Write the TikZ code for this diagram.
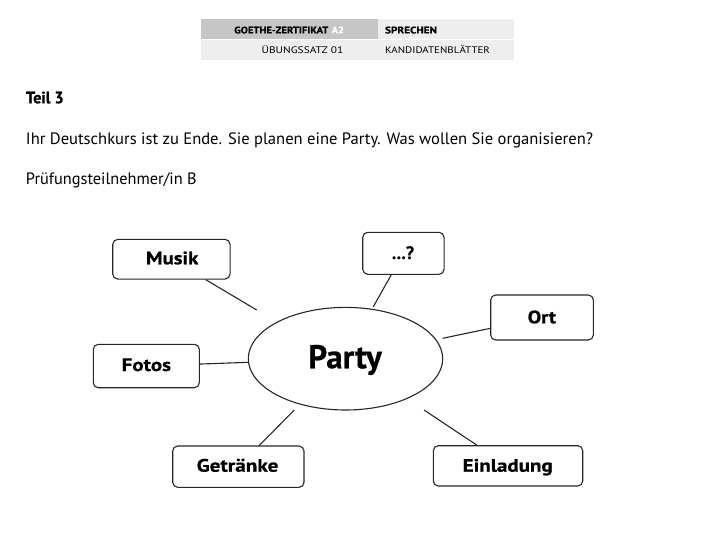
\documentclass[tikz,border=0pt]{standalone}
\usepackage{fontspec}
\usepackage{graphicx}
\setmainfont{PT Sans}
\newfontfamily\heavyfont[FakeBold=0.6]{PT Sans Bold}
\definecolor{hdrdark}{HTML}{C6C6C6}
\definecolor{hdrlight}{HTML}{EEEEEE}
\newcommand{\fitw}[2]{\resizebox{#1}{\height}{#2}}
\begin{document}
\begin{tikzpicture}[x=1pt,y=-1pt,
  txt/.style={anchor=base west,inner sep=0pt,outer sep=0pt},
  txtr/.style={anchor=base east,inner sep=0pt,outer sep=0pt},
  hdr/.style={font=\fontsize{9.5}{11}\selectfont},
  body/.style={font=\fontsize{16.5}{19}\selectfont},
  lbl/.style={font=\heavyfont\fontsize{18}{21}\selectfont},
  box/.style={draw=black!85,line width=1.1pt,rounded corners=5pt,inner sep=0pt},
  conn/.style={draw=black!85,line width=1.1pt}]
\useasboundingbox (0,0) rectangle (728,535);
% header table
\fill[hdrdark] (201,19) rectangle (377.7,39);
\fill[hdrlight] (377.7,19) rectangle (513.5,39);
\fill[hdrlight] (201,40.2) rectangle (513.5,60);
\node[txtr,hdr] (h1) at (328.3,33.4) {\fitw{94pt}{\heavyfont GOETHE-ZERTIFIKAT}};
\node[txt,hdr,text=white] (h2) at (331.7,33.4) {\fitw{12.3pt}{\heavyfont A2}};
\node[txt,hdr] (h3) at (385,33.4) {\fitw{52pt}{\heavyfont SPRECHEN}};
\node[txtr,hdr] (h4) at (343.3,53.4) {\fitw{81.6pt}{ÜBUNGSSATZ 01}};
\node[txt,hdr] (h5) at (385,53.4) {\fitw{105pt}{KANDIDATENBLÄTTER}};
% body text
\node[txt,body] (t1) at (26,103.3) {\fitw{37.7pt}{\heavyfont Teil 3}};
\node[txt,body] (t2) at (26,144.3) {\fitw{567pt}{Ihr Deutschkurs ist zu Ende. Sie planen eine Party. Was wollen Sie organisieren?}};
\node[txt,body] (t3) at (26,184.3) {\fitw{170.7pt}{Prüfungsteilnehmer/in B}};
% central ellipse
\draw[conn] (345.5,358.7) ellipse [x radius=97.2, y radius=51.3];
\node[inner sep=0pt,font=\heavyfont\fontsize{33}{38}\selectfont,anchor=base] (party) at (345,368.3) {\fitw{73.4pt}{Party}};
% boxes
\node[box,minimum width=117.3pt,minimum height=39.7pt] (musik) at (171.4,259.2) {};
\node[txt,lbl] (musikT) at (146,264.3) {\fitw{52.3pt}{Musik}};
\node[box,minimum width=81.3pt,minimum height=42pt] (frage) at (403.4,253.3) {};
\node[txt,lbl] (frageT) at (391.7,259) {\fitw{22.3pt}{…?}};
\node[box,minimum width=102.6pt,minimum height=45pt] (ort) at (542,317.5) {};
\node[txt,lbl] (ortT) at (527.7,323.3) {\fitw{28.3pt}{Ort}};
\node[box,minimum width=106pt,minimum height=43.4pt] (fotos) at (146.3,366) {};
\node[txt,lbl] (fotosT) at (121.7,371) {\fitw{49.3pt}{Fotos}};
\node[box,minimum width=131.3pt,minimum height=41.3pt] (getraenke) at (238.35,466.65) {};
\node[txt,lbl] (getraenkeT) at (196.7,471.7) {\fitw{81.6pt}{Getränke}};
\node[box,minimum width=149.4pt,minimum height=40.3pt] (einladung) at (508,465.85) {};
\node[txt,lbl] (einladungT) at (462.7,471.7) {\fitw{90pt}{Einladung}};
% free ends near the ellipse
\coordinate (cM) at (256.7,310);
\coordinate (cQ) at (373.3,306.7);
\coordinate (cO) at (442.7,338.3);
\coordinate (cF) at (248.3,362.3);
\coordinate (cG) at (294.3,410);
\coordinate (cE) at (424,410);
\draw[conn] (musik) -- (cM);
\draw[conn] (frage) -- (cQ);
\draw[conn] (ort) -- (cO);
\draw[conn] (fotos) -- (cF);
\draw[conn] (getraenke) -- (cG);
\draw[conn] (einladung) -- (cE);
\end{tikzpicture}
\end{document}
